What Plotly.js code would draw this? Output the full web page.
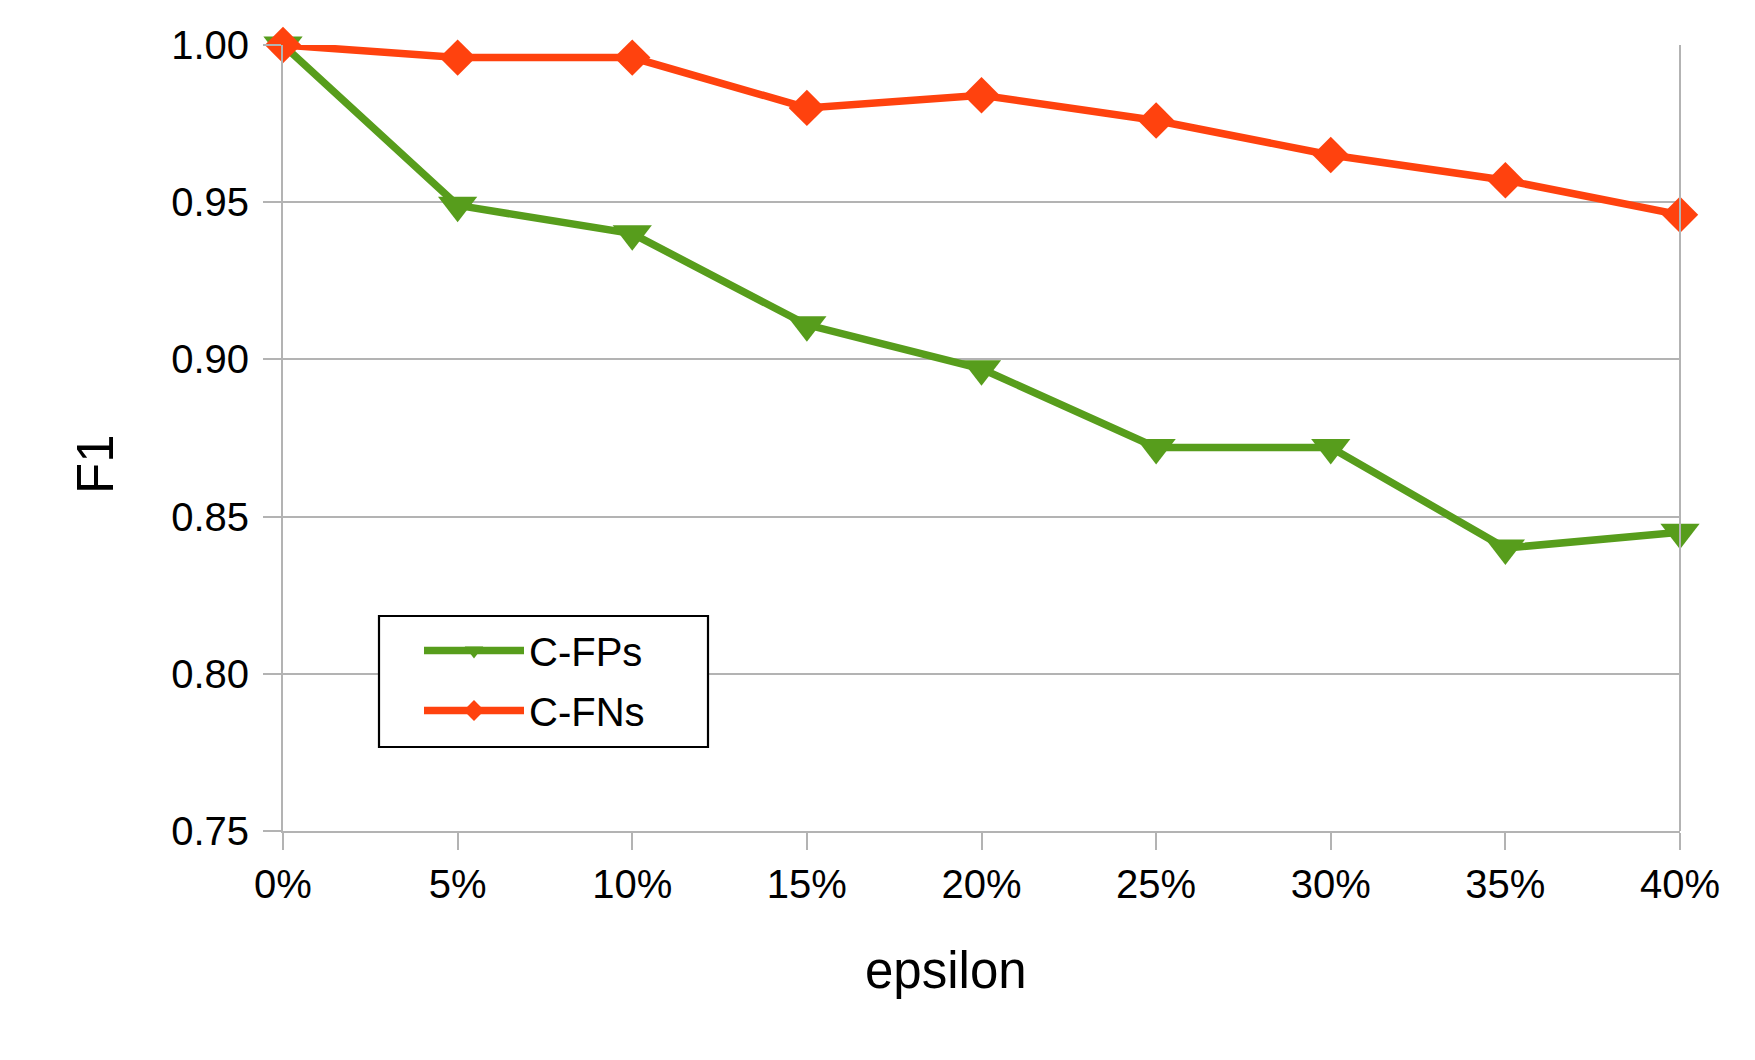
<!DOCTYPE html>
<html>
<head>
<meta charset="utf-8">
<script src="https://cdn.plot.ly/plotly-3.0.1.min.js"></script>
<style>html,body{margin:0;padding:0;background:#fff;}#chart{width:1755px;height:1060px;}</style>
</head>
<body>
<div id="chart"></div>
<script>
const categories = ['0%','5%','10%','15%','20%','25%','30%','35%','40%'];
const cfps = [1.000, 0.949, 0.940, 0.911, 0.897, 0.872, 0.872, 0.840, 0.845];
const cfns = [1.000, 0.996, 0.996, 0.980, 0.984, 0.976, 0.965, 0.957, 0.946];
const yTicks = [0.75, 0.80, 0.85, 0.90, 0.95, 1.00];
const yTickText = ['0.75','0.80','0.85','0.90','0.95','1.00'];
const xTitle = 'epsilon';
const yTitle = 'F1';

const font = 'Liberation Sans, Arial, sans-serif';
const plotL = 283, plotR = 1680, plotT = 45, plotB = 831;
const pw = plotR - plotL, ph = plotB - plotT;
const px = v => (v - plotL) / pw;
const py = v => (plotB - v) / ph;

const traces = [
  {x: categories, y: cfps, name: 'C-FPs', legendgroup: 'a', type: 'scatter', mode: 'lines+markers',
   line: {color: '#579d1c', width: 7.5}, marker: {symbol: 'triangle-down', size: 34, color: '#579d1c'},
   cliponaxis: false},
  {x: categories, y: cfns, name: 'C-FNs', legendgroup: 'b', type: 'scatter', mode: 'lines+markers',
   line: {color: '#ff420e', width: 7.5}, marker: {symbol: 'diamond', size: 28, color: '#ff420e'},
   cliponaxis: false}
];
const layout = {
  width: 1755, height: 1060,
  margin: {l: plotL, r: 1755 - plotR, t: plotT, b: 1060 - plotB},
  paper_bgcolor: '#fff', plot_bgcolor: '#fff',
  font: {family: font, color: '#000', size: 40},
  showlegend: true,
  legend: {x: px(379), y: py(616), xanchor: 'left', yanchor: 'top', bordercolor: 'rgba(0,0,0,0)', borderwidth: 2,
           bgcolor: 'rgba(0,0,0,0)', font: {family: font, size: 40}, itemwidth: 100, tracegroupgap: 5,
           indentation: 38},
  xaxis: {type: 'category', range: [0, 8], showgrid: false, showline: true, linecolor: '#b3b3b3', linewidth: 2,
          ticks: 'outside', ticklen: 17, tickwidth: 2, tickcolor: '#b3b3b3', mirror: false,
          tickfont: {family: font, size: 40}, zeroline: false},
  yaxis: {range: [0.75, 1.0], tickvals: yTicks, ticktext: yTickText, showgrid: true, gridcolor: '#b3b3b3', gridwidth: 2,
          showline: true, linecolor: '#b3b3b3', linewidth: 2, ticks: 'outside', ticklen: 18, tickwidth: 2, tickcolor: '#b3b3b3',
          tickfont: {family: font, size: 40}, zeroline: false, ticklabelstandoff: 6},
  annotations: [
    {text: xTitle, xref: 'paper', yref: 'paper', x: px(946), y: py(970),
     xanchor: 'center', yanchor: 'middle', showarrow: false, font: {family: font, size: 51}},
    {text: yTitle, xref: 'paper', yref: 'paper', x: px(95), y: py(464),
     xanchor: 'center', yanchor: 'middle', showarrow: false, textangle: -90, font: {family: font, size: 51}}
  ],
  shapes: [
    {type: 'line', xref: 'paper', yref: 'paper', x0: 1, x1: 1, y0: 0, y1: 1, line: {color: '#b3b3b3', width: 2}},
    {type: 'rect', xref: 'paper', yref: 'paper', layer: 'above', x0: px(379), x1: px(708), y0: py(747), y1: py(616),
     fillcolor: '#fff', line: {color: '#000', width: 2.2}}
  ]
};
Plotly.newPlot('chart', traces, layout, {displayModeBar: false, staticPlot: true});
</script>
</body>
</html>
